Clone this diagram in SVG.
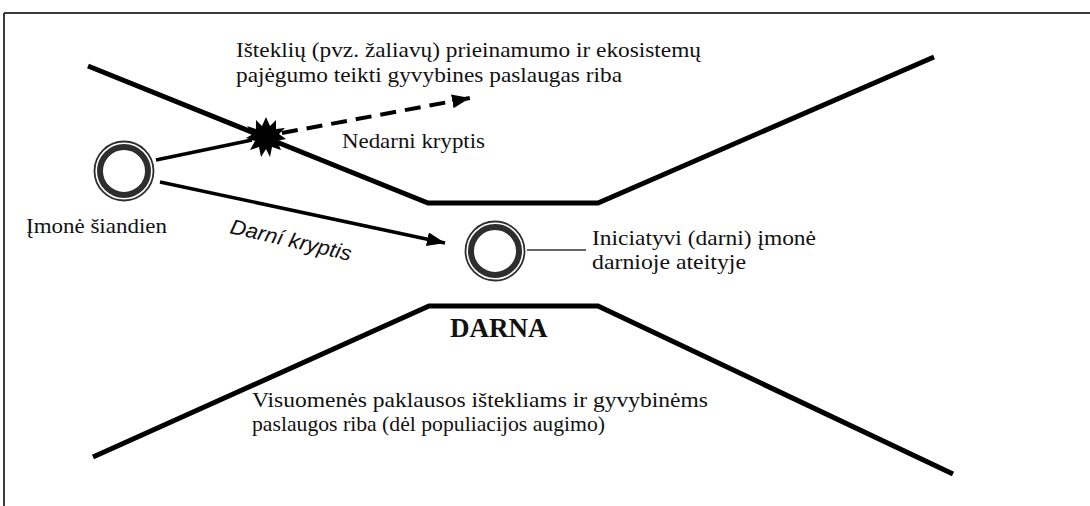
<svg xmlns="http://www.w3.org/2000/svg" width="1090" height="506" viewBox="0 0 1090 506">
  <style>
    .frame { stroke: #3a3a3a; stroke-width: 2; fill: none; }
    .bound { stroke: #000; stroke-width: 5; fill: none; stroke-linejoin: miter; }
    .ring-thin { fill: none; stroke: #2e2e2e; stroke-width: 1.8; }
    .ring-thick { fill: none; stroke: #2e2e2e; stroke-width: 6; }
    .path-solid { stroke: #000; stroke-width: 3.5; fill: none; }
    .path-dash { stroke: #000; stroke-width: 4; fill: none; stroke-dasharray: 16 9; }
    .lbl { font-family: "Liberation Serif", "Times New Roman", serif; font-size: 21px; fill: #111; }
    .lbl-it { font-family: "Liberation Sans", Arial, sans-serif; font-size: 21px; font-style: italic; fill: #111; }
    .lbl-b { font-family: "Liberation Serif", "Times New Roman", serif; font-size: 27px; font-weight: bold; fill: #111; }
  </style>
  <defs>
    <marker id="head" markerUnits="userSpaceOnUse" markerWidth="20" markerHeight="14" refX="18" refY="7" orient="auto">
      <path d="M0,0 L18,7 L0,14 Z" fill="#000"/>
    </marker>
    <g id="company">
      <circle r="29.5" class="ring-thin"/>
      <circle r="24" class="ring-thick"/>
    </g>
  </defs>

  <rect width="1090" height="506" fill="#fff"/>

  <!-- frame -->
  <g id="frame">
    <line x1="4" y1="13" x2="1090" y2="13" class="frame"/>
    <line x1="4" y1="13" x2="4" y2="506" class="frame"/>
  </g>

  <!-- boundaries of the sustainability corridor -->
  <g id="upper-limit">
    <polyline points="88,66 428,203 598,203 934,57" class="bound"/>
  </g>
  <g id="lower-limit">
    <polyline points="93,457 429,306 598,306 953,474" class="bound"/>
  </g>

  <!-- connectors -->
  <g id="connectors">
    <line x1="156" y1="160" x2="252" y2="140" class="path-solid" stroke-width="4"/>
    <line x1="282" y1="133" x2="470" y2="98" class="path-dash" marker-end="url(#head)"/>
    <line x1="160" y1="182" x2="445" y2="243" class="path-solid" marker-end="url(#head)"/>
    <line x1="527" y1="250" x2="586" y2="250" stroke="#333" stroke-width="1.5"/>
  </g>

  <!-- collision burst -->
  <g id="burst">
    <polygon fill="#000" points="266,117 270,126 276,120 276,129 285,128 279,134 286,139 277,141 281,150 272,147 270,157 266,149 261,157 259,147 250,150 255,141 246,138 253,134 247,126 256,129 256,120 262,126"/>
  </g>

  <!-- nodes -->
  <g id="company-today">
    <use href="#company" x="124" y="171"/>
    <text class="lbl" x="26" y="233" textLength="141" lengthAdjust="spacingAndGlyphs">Įmonė šiandien</text>
  </g>
  <g id="company-future">
    <use href="#company" x="495" y="251"/>
    <text class="lbl" x="592" y="245" textLength="224" lengthAdjust="spacingAndGlyphs">Iniciatyvi (darni) įmonė</text>
    <text class="lbl" x="592" y="269" textLength="154" lengthAdjust="spacingAndGlyphs">darnioje ateityje</text>
  </g>

  <!-- labels -->
  <g id="labels">
    <text class="lbl" x="236" y="57" textLength="465" lengthAdjust="spacingAndGlyphs">Išteklių (pvz. žaliavų) prieinamumo ir ekosistemų</text>
    <text class="lbl" x="236" y="82" textLength="386" lengthAdjust="spacingAndGlyphs">pajėgumo teikti gyvybines paslaugas riba</text>
    <text class="lbl" x="342" y="148" textLength="143" lengthAdjust="spacingAndGlyphs">Nedarni kryptis</text>
    <text class="lbl-it" transform="translate(229,233) rotate(13)" textLength="124" lengthAdjust="spacingAndGlyphs">Darní kryptis</text>
    <text class="lbl-b" x="450" y="337">DARNA</text>
    <text class="lbl" x="252" y="407" textLength="456" lengthAdjust="spacingAndGlyphs">Visuomenės paklausos ištekliams ir gyvybinėms</text>
    <text class="lbl" x="252" y="431" textLength="353" lengthAdjust="spacingAndGlyphs">paslaugos riba (dėl populiacijos augimo)</text>
  </g>
</svg>
